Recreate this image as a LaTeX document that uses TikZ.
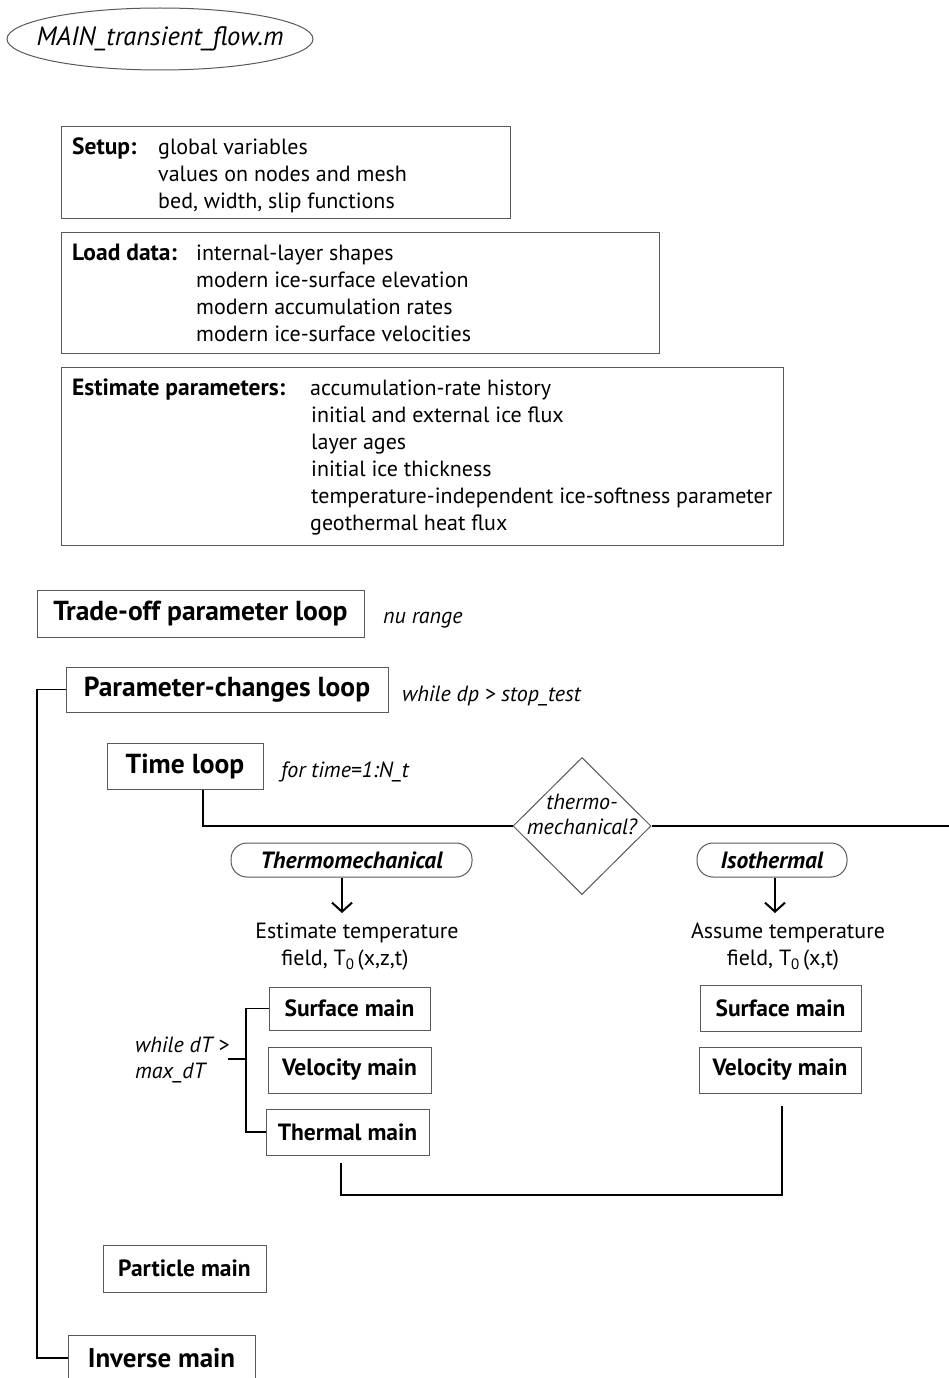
\documentclass[tikz,border=0pt]{standalone}
\usepackage{fontspec}
\setmainfont{PT Sans}
\usetikzlibrary{shapes.geometric,arrows.meta}
\definecolor{boxgray}{gray}{0.35}
\newcommand\fsz[1]{\fontsize{#1}{#1}\selectfont}
\begin{document}
\begin{tikzpicture}[x=1pt,y=-1pt,
  frame/.style={draw=boxgray,line width=1pt,inner sep=0pt},
  corner/.style={frame,anchor=north west},
  pill/.style={frame,rounded corners=16pt},
  body/.style={inner sep=0pt,anchor=base west,font=\fsz{22}},
  head/.style={inner sep=0pt,anchor=base west,font=\fsz{23.5}\bfseries},
  note/.style={inner sep=0pt,anchor=base west,font=\fsz{22}\itshape},
  loopbox/.style={frame,font=\fsz{27.5}\bfseries},
  mainbox/.style={frame,font=\fsz{23.5}\bfseries},
  conn/.style={draw=black,line width=1.5pt},
  arr/.style={conn,-{Straight Barb[length=9pt,width=20pt,line width=2pt]}}]
\useasboundingbox (0,0) rectangle (949,1378);
\clip (0,0) rectangle (949,1378);
\fill[white] (0,0) rectangle (949,1378);

% program name
\node[frame,ellipse,minimum width=306pt,minimum height=62pt,
  label={[font=\fsz{26.5}\itshape,inner sep=0pt]center:MAIN\_transient\_flow.m}] (prog) at (160,39) {};

% setup block
\node[corner,minimum width=449pt,minimum height=92pt] (setup) at (61,126) {};
\node[head] (setupH) at (72,154) {Setup:};
\node[body] (setup1) at (158,154) {global variables};
\node[body] (setup2) at (158,181) {values on nodes and mesh};
\node[body] (setup3) at (158,208) {bed, width, slip functions};

% data loading block
\node[corner,minimum width=598pt,minimum height=121pt] (load) at (61,232) {};
\node[head] (loadH) at (72,260) {Load data:};
\node[body] (load1) at (196,260) {internal-layer shapes};
\node[body] (load2) at (196,287) {modern ice-surface elevation};
\node[body] (load3) at (196,314) {modern accumulation rates};
\node[body] (load4) at (196,341) {modern ice-surface velocities};

% parameter estimation block
\node[corner,minimum width=722pt,minimum height=178pt] (est) at (61,367) {};
\node[head] (estH) at (72,395) {Estimate parameters:};
\node[body] (est1) at (310,395) {accumulation-rate history};
\node[body] (est2) at (311,422) {initial and external ice flux};
\node[body] (est3) at (311,449) {layer ages};
\node[body] (est4) at (311,476) {initial ice thickness};
\node[body] (est5) at (311,503) {temperature-independent ice-softness parameter};
\node[body] (est6) at (310,530) {geothermal heat flux};

% loops
\node[loopbox,minimum width=327pt,minimum height=47pt] (trade) at (200.5,613.5) {Trade-off parameter loop};
\node[note] (tradeN) at (383,623) {nu range};
\node[loopbox,minimum width=322pt,minimum height=45pt] (pchg) at (227,689.5) {Parameter-changes loop};
\node[note] (pchgN) at (402,701) {while dp > stop\_test};
\node[loopbox,minimum width=156pt,minimum height=46pt] (time) at (185,766) {Time loop};
\node[note] (timeN) at (281,777) {for time=1:N\_t};

% branch on thermomechanical option
\node[frame,diamond,minimum width=138pt,minimum height=137pt,
  label={[align=center,font=\fontsize{22}{25}\selectfont\itshape,inner sep=0pt,yshift=12pt]center:thermo-\\mechanical?}] (dec) at (582,826) {};
\coordinate (tdrop) at (203,826);
\coordinate (redge) at (949,826);
\draw[conn] (time.south -| tdrop) -- (tdrop) -- (dec.west);
\draw[conn] (dec.east) -- (redge);

% thermomechanical branch
\node[pill,minimum width=241pt,minimum height=34pt,font=\fsz{23.5}\bfseries\itshape] (thermo) at (351.5,860) {Thermomechanical};
\coordinate (thermoTip) at (342,913);
\draw[arr] (thermo.south -| thermoTip) -- (thermoTip);
\node[body,anchor=base] (estT1) at (357,938) {Estimate temperature};
\node[body,anchor=base] (estT2) at (345,965) {field, T{\fsz{15}\raisebox{-4pt}{0}}\,(x,z,t)};
\node[mainbox,minimum width=161pt,minimum height=43pt] (surfL) at (349.5,1008.5) {Surface main};
\node[mainbox,minimum width=163pt,minimum height=46pt] (veloL) at (349.5,1070) {Velocity main};
\node[mainbox,minimum width=163pt,minimum height=46pt] (therL) at (347.5,1132) {Thermal main};
\node[note] (dT1) at (135,1052) {while dT >};
\node[note] (dT2) at (135,1078) {max\_dT};
\coordinate (brk) at (246,1059);
\coordinate (stub) at (228,1059);
\draw[conn] (surfL.west) -| (brk) |- (therL.west);
\draw[conn] (stub) -- (brk);

% isothermal branch
\node[pill,minimum width=150pt,minimum height=34pt,font=\fsz{23.5}\bfseries\itshape] (iso) at (772,860) {Isothermal};
\coordinate (isoTip) at (775,913);
\draw[arr] (iso.south -| isoTip) -- (isoTip);
\node[body,anchor=base] (asT1) at (788,938) {Assume temperature};
\node[body,anchor=base] (asT2) at (783,965) {field, T{\fsz{15}\raisebox{-4pt}{0}}\,(x,t)};
\node[mainbox,minimum width=161pt,minimum height=46pt] (surfR) at (780.5,1008) {Surface main};
\node[mainbox,minimum width=162pt,minimum height=46pt] (veloR) at (780,1070) {Velocity main};

% branches rejoin
\coordinate (join) at (341,1195);
\coordinate (joinR) at (782,1195);
\draw[conn] ([yshift=-7pt]therL.south -| join) -- (join) -- (joinR) -- ([yshift=-12pt]veloR.south -| joinR);

% remaining steps
\node[mainbox,minimum width=163pt,minimum height=47pt] (part) at (184.5,1268.5) {Particle main};
\node[frame,minimum width=187pt,minimum height=46pt,font=\fsz{27}\bfseries] (inv) at (161.5,1358) {Inverse main};

% outer loop bracket
\coordinate (lb) at (37,689.5);
\draw[conn] (pchg.west) -- (lb) |- (inv.west);
\end{tikzpicture}
\end{document}
